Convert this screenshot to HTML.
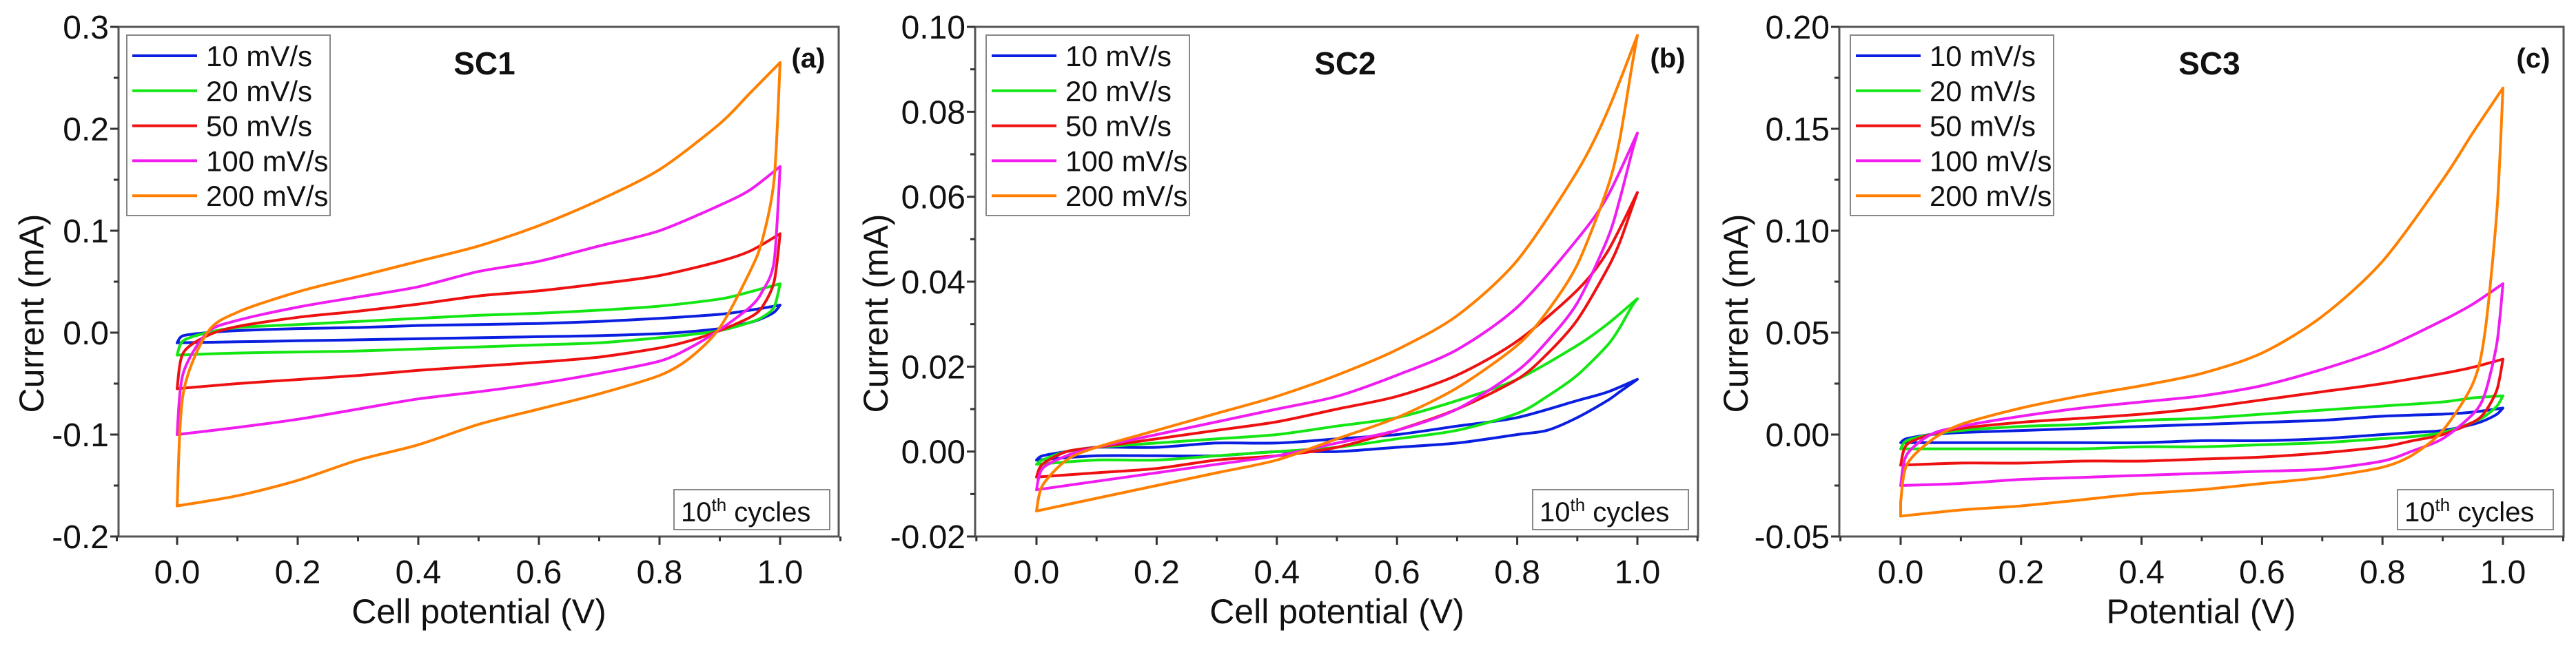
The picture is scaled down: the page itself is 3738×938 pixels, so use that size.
<!DOCTYPE html>
<html><head><meta charset="utf-8">
<style>
html,body{margin:0;padding:0;background:#fff;}
svg{display:block;}
text{font-family:"Liberation Sans",Arial,sans-serif;fill:#111;}
</style></head>
<body>
<svg id="fig" width="3738" height="938" viewBox="0 0 3738 938" xmlns="http://www.w3.org/2000/svg"></svg>
<script>
// ---- data ----
const rates = ["10 mV/s","20 mV/s","50 mV/s","100 mV/s","200 mV/s"];
const colors = ["#0a1fe0","#14e614","#ee1111","#f01cf0","#ff8000"];
const fwdV = [0,0.01,0.05,0.1,0.2,0.3,0.4,0.5,0.6,0.7,0.8,0.9,0.95,1.0];
const revV = [0.99,0.97,0.95,0.9,0.85,0.8,0.7,0.6,0.5,0.4,0.3,0.2,0.1,0];

// Panel a (SC1)
const a_fwd_10  = [-0.010,-0.003,0.000,0.002,0.004,0.005,0.007,0.008,0.009,0.011,0.014,0.018,0.022,0.027];
const a_rev_10  = [0.020,0.014,0.010,0.004,0.001,-0.001,-0.003,-0.004,-0.005,-0.006,-0.007,-0.008,-0.009,-0.010];
const a_fwd_20  = [-0.022,-0.008,0.000,0.005,0.008,0.011,0.014,0.017,0.019,0.022,0.026,0.033,0.040,0.048];
const a_rev_20  = [0.025,0.015,0.010,0.002,-0.002,-0.005,-0.010,-0.012,-0.014,-0.016,-0.018,-0.019,-0.020,-0.022];
const a_fwd_50  = [-0.055,-0.020,-0.003,0.006,0.015,0.021,0.028,0.036,0.041,0.048,0.056,0.070,0.080,0.097];
const a_rev_50  = [0.050,0.025,0.015,0.002,-0.008,-0.015,-0.024,-0.029,-0.033,-0.037,-0.042,-0.046,-0.050,-0.055];
const a_fwd_100 = [-0.100,-0.040,0.000,0.012,0.025,0.035,0.045,0.060,0.070,0.085,0.100,0.125,0.140,0.163];
const a_rev_100 = [0.070,0.040,0.025,0.003,-0.015,-0.028,-0.040,-0.050,-0.058,-0.065,-0.075,-0.085,-0.093,-0.100];
const a_fwd_200 = [-0.170,-0.060,0.000,0.020,0.040,0.055,0.070,0.085,0.105,0.130,0.160,0.205,0.235,0.265];
const a_rev_200 = [0.150,0.090,0.060,0.005,-0.025,-0.042,-0.060,-0.075,-0.090,-0.110,-0.125,-0.145,-0.160,-0.170];

// Panel b (SC2)
const b_fwd_10  = [-0.002,-0.001,0.000,0.001,0.001,0.002,0.002,0.003,0.004,0.006,0.008,0.012,0.014,0.017];
const b_rev_10  = [0.016,0.014,0.012,0.008,0.005,0.004,0.002,0.001,0.000,0.000,-0.001,-0.001,-0.001,-0.002];
const b_fwd_20  = [-0.003,-0.002,0.000,0.001,0.002,0.003,0.004,0.006,0.008,0.012,0.017,0.025,0.030,0.036];
const b_rev_20  = [0.034,0.029,0.025,0.018,0.013,0.009,0.005,0.003,0.001,0.000,-0.001,-0.002,-0.002,-0.003];
const b_fwd_50  = [-0.006,-0.003,0.000,0.001,0.003,0.005,0.007,0.010,0.013,0.018,0.026,0.038,0.047,0.061];
const b_rev_50  = [0.057,0.049,0.043,0.031,0.023,0.017,0.010,0.005,0.001,-0.001,-0.002,-0.004,-0.005,-0.006];
const b_fwd_100 = [-0.009,-0.004,-0.001,0.001,0.004,0.007,0.010,0.013,0.018,0.024,0.034,0.050,0.060,0.075];
const b_rev_100 = [0.070,0.059,0.050,0.035,0.026,0.019,0.010,0.005,0.002,-0.001,-0.003,-0.005,-0.007,-0.009];
const b_fwd_200 = [-0.014,-0.008,-0.002,0.001,0.005,0.009,0.013,0.018,0.024,0.032,0.045,0.066,0.080,0.098];
const b_rev_200 = [0.090,0.073,0.062,0.044,0.033,0.025,0.015,0.008,0.003,-0.002,-0.005,-0.008,-0.011,-0.014];

// Panel c (SC3)
const c_fwd_10  = [-0.004,-0.002,0.000,0.001,0.002,0.003,0.004,0.005,0.006,0.007,0.009,0.010,0.011,0.013];
const c_rev_10  = [0.010,0.007,0.005,0.002,0.001,0.000,-0.002,-0.003,-0.003,-0.004,-0.004,-0.004,-0.004,-0.004];
const c_fwd_20  = [-0.007,-0.003,0.000,0.002,0.004,0.005,0.007,0.008,0.010,0.012,0.014,0.016,0.018,0.019];
const c_rev_20  = [0.014,0.009,0.006,0.001,-0.001,-0.002,-0.004,-0.005,-0.006,-0.006,-0.007,-0.007,-0.007,-0.007];
const c_fwd_50  = [-0.015,-0.005,0.000,0.003,0.006,0.008,0.010,0.013,0.017,0.021,0.025,0.030,0.033,0.037];
const c_rev_50  = [0.022,0.011,0.006,0.000,-0.003,-0.006,-0.009,-0.011,-0.012,-0.013,-0.013,-0.014,-0.014,-0.015];
const c_fwd_100 = [-0.025,-0.010,0.000,0.004,0.009,0.013,0.016,0.019,0.024,0.032,0.042,0.056,0.064,0.074];
const c_rev_100 = [0.045,0.020,0.010,-0.002,-0.008,-0.013,-0.017,-0.018,-0.019,-0.020,-0.021,-0.022,-0.024,-0.025];
const c_fwd_200 = [-0.033,-0.015,-0.003,0.005,0.013,0.019,0.024,0.030,0.040,0.058,0.085,0.125,0.148,0.170];
const c_rev_200 = [0.110,0.050,0.025,0.002,-0.010,-0.016,-0.021,-0.024,-0.027,-0.029,-0.032,-0.035,-0.037,-0.040];

const xTicks = [0.0,0.2,0.4,0.6,0.8,1.0];
const xTickLabels = ["0.0","0.2","0.4","0.6","0.8","1.0"];
const aYTicks = [-0.2,-0.1,0.0,0.1,0.2,0.3];
const aYTickLabels = ["-0.2","-0.1","0.0","0.1","0.2","0.3"];
const bYTicks = [-0.02,0.0,0.02,0.04,0.06,0.08,0.10];
const bYTickLabels = ["-0.02","0.00","0.02","0.04","0.06","0.08","0.10"];
const cYTicks = [-0.05,0.0,0.05,0.10,0.15,0.20];
const cYTickLabels = ["-0.05","0.00","0.05","0.10","0.15","0.20"];

const panels = [
 {id:"a", title:"SC1", tag:"(a)", xTitle:"Cell potential (V)", left:172, right:1217, x0:257, x1:1132, top:39, bottom:779,
  ymin:-0.2, ymax:0.3, yTicks:aYTicks, yLabels:aYTickLabels, minorY:0.05,
  fwd:[a_fwd_10,a_fwd_20,a_fwd_50,a_fwd_100,a_fwd_200], rev:[a_rev_10,a_rev_20,a_rev_50,a_rev_100,a_rev_200],
  legX:184, legW:295, titleX:703, yTitleX:45, xTitleX:695, boxX:978},
 {id:"b", title:"SC2", tag:"(b)", xTitle:"Cell potential (V)", left:1415, right:2464, x0:1504, x1:2376, top:39, bottom:779,
  ymin:-0.02, ymax:0.10, yTicks:bYTicks, yLabels:bYTickLabels, minorY:0.01,
  fwd:[b_fwd_10,b_fwd_20,b_fwd_50,b_fwd_100,b_fwd_200], rev:[b_rev_10,b_rev_20,b_rev_50,b_rev_100,b_rev_200],
  legX:1431, legW:295, titleX:1952, yTitleX:1270, xTitleX:1940, boxX:2224},
 {id:"c", title:"SC3", tag:"(c)", xTitle:"Potential (V)", left:2669, right:3720, x0:2758, x1:3632, top:39, bottom:779,
  ymin:-0.05, ymax:0.20, yTicks:cYTicks, yLabels:cYTickLabels, minorY:0.025,
  fwd:[c_fwd_10,c_fwd_20,c_fwd_50,c_fwd_100,c_fwd_200], rev:[c_rev_10,c_rev_20,c_rev_50,c_rev_100,c_rev_200],
  legX:2685, legW:295, titleX:3206, yTitleX:2518, xTitleX:3194, boxX:3479}
];

const NS="http://www.w3.org/2000/svg";
const svg=document.getElementById("fig");
function mk(tag, attrs, parent){const e=document.createElementNS(NS,tag);for(const k in attrs)e.setAttribute(k,attrs[k]);(parent||svg).appendChild(e);return e;}

function smoothSeg(pts, start){
  let d=start?("M"+pts[0][0].toFixed(1)+","+pts[0][1].toFixed(1)):"";
  for(let i=0;i<pts.length-1;i++){
    const p0=pts[i-1]||pts[i], p1=pts[i], p2=pts[i+1], p3=pts[i+2]||p2;
    const t=0.14;
    const c1=[p1[0]+(p2[0]-p0[0])*t, p1[1]+(p2[1]-p0[1])*t];
    const c2=[p2[0]-(p3[0]-p1[0])*t, p2[1]-(p3[1]-p1[1])*t];
    d+=" C"+c1[0].toFixed(1)+","+c1[1].toFixed(1)+" "+c2[0].toFixed(1)+","+c2[1].toFixed(1)+" "+p2[0].toFixed(1)+","+p2[1].toFixed(1);
  }
  return d;
}

panels.forEach(P=>{
  const g=mk("g",{});
  
  
  const sx=v=>P.x0+(P.x1-P.x0)*v;
  const sy=v=>P.bottom-(v-P.ymin)/(P.ymax-P.ymin)*(P.bottom-P.top);

  const fr=mk("rect",{x:P.left,y:P.top,width:P.right-P.left,height:P.bottom-P.top,fill:"none",stroke:"#555",'stroke-width':3},g);
  
  

  for(let k=-1;k<=11;k++){
    const v=k/10, X=sx(v);
    const major=(k%2===0)&&k>=0&&k<=10;
    mk("line",{x1:X,y1:P.bottom,x2:X,y2:P.bottom+(major?12:7),stroke:"#333",'stroke-width':3},g);
  }
  xTicks.forEach((v,i)=>{
    const t=mk("text",{x:sx(v),y:P.bottom+68,'font-size':48,'text-anchor':'middle'},g);
    t.textContent=xTickLabels[i];
    
    
  });
  const ys=P.yTicks;
  for(let v=P.ymin; v<=P.ymax+1e-9; v+=P.minorY){
    const isMajor=ys.some(m=>Math.abs(m-v)<1e-9);
    mk("line",{x1:P.left,y1:sy(v),x2:P.left-(isMajor?12:7),y2:sy(v),stroke:"#333",'stroke-width':3},g);
  }
  ys.forEach((v,i)=>{
    const t=mk("text",{x:P.left-14,y:sy(v)+17,'font-size':48,'text-anchor':'end'},g);
    t.textContent=P.yLabels[i];
    
    
  });
  const xt=mk("text",{x:P.xTitleX,y:905,'font-size':50,'text-anchor':'middle'},g);
  xt.textContent=P.xTitle;
  
  
  const yt=mk("text",{x:0,y:0,'font-size':50,'text-anchor':'middle',transform:"translate("+(P.yTitleX+18)+",455) rotate(-90)"},g);
  yt.textContent="Current (mA)";
  
  

  P.fwd.forEach((fI,si)=>{
    const rI=P.rev[si];
    const fp=fwdV.map((v,i)=>[sx(v),sy(fI[i])]);
    const rp=[fp[fp.length-1]].concat(revV.map((v,i)=>[sx(v),sy(rI[i])]));
    const d=smoothSeg(fp,true)+smoothSeg(rp,false)+" Z";
    const p=mk("path",{d:d,fill:"none",stroke:colors[si],'stroke-width':4,'stroke-linejoin':'round'},g);
    
    
  });

  const lg=mk("g",{},g);
  
  
  mk("rect",{x:P.legX,y:51,width:P.legW,height:262,fill:"#fff",stroke:"#888",'stroke-width':2},lg);
  rates.forEach((r,i)=>{
    const yy=81+i*50.8;
    mk("line",{x1:P.legX+8,y1:yy,x2:P.legX+102,y2:yy,stroke:colors[i],'stroke-width':4},lg);
    const t=mk("text",{x:P.legX+115,y:yy+15,'font-size':42},lg);
    t.textContent=r;
    
    
  });

  const ti=mk("text",{x:P.titleX,y:108,'font-size':46,'font-weight':'bold','text-anchor':'middle'},g);
  ti.textContent=P.title;
  
  
  const tg=mk("text",{x:P.right-44,y:98,'font-size':40,'font-weight':'bold','text-anchor':'middle'},g);
  tg.textContent=P.tag;
  
  

  const bx=mk("g",{},g);
  
  
  mk("rect",{x:P.boxX,y:711,width:226,height:58,fill:"#fff",stroke:"#888",'stroke-width':2},bx);
  const ct=mk("text",{x:P.boxX+10,y:757,'font-size':40},bx);
  ct.innerHTML='10<tspan dy="-15" font-size="26">th</tspan><tspan dy="15"> cycles</tspan>';
});
</script>
</body></html>
